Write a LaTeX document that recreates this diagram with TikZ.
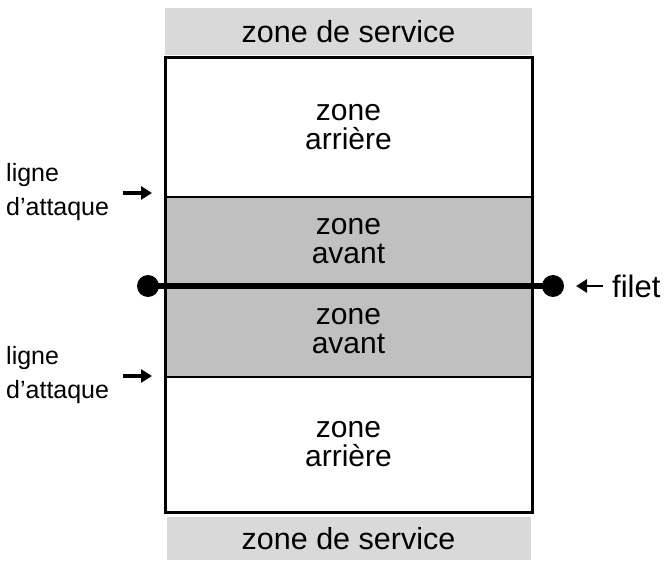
\documentclass[tikz,border=0pt]{standalone}
\usepackage{fontspec}
\setmainfont{Liberation Sans}
\usetikzlibrary{positioning, arrows.meta}
\definecolor{servgray}{HTML}{D9D9D9}
\definecolor{frontgray}{HTML}{C0C0C0}

\begin{document}
\begin{tikzpicture}[
  x=1pt, y=-1pt,
  zone/.style={rectangle, draw=black, line width=2.5pt, outer sep=0pt, inner sep=0pt,
    minimum width=367pt, align=center, font=\fontsize{30}{29}\selectfont},
  back/.style={zone, fill=white},
  front/.style={zone, fill=frontgray},
  service/.style={rectangle, fill=servgray, outer sep=0pt, inner sep=0pt,
    font=\fontsize{30.5}{30}\selectfont},
  lbl/.style={align=left, inner sep=0pt, anchor=west, font=\fontsize{25}{34}\selectfont},
  dot/.style={circle, fill=black, minimum size=22pt, inner sep=0pt},
  net/.style={line width=6.5pt},
  tip/.style={-{Triangle[length=11pt,width=13pt]}, line width=3.5pt}
]
\useasboundingbox (0,0) rectangle (667,561);

% court, from the back zone over the net to the other side
\node[back, minimum height=139pt] (backN) at (348.5,127.5) {zone\\arrière};
\node[front, minimum height=89pt, below=0pt of backN] (frontN) {zone\\avant};
\node[front, minimum height=91pt, below=0pt of frontN] (frontS) {zone\\avant};
\node[back, minimum height=135pt, below=0pt of frontS] (backS) {zone\\arrière};
\draw[line width=3pt] (backN.north west) rectangle (backS.south east);

\node[service, minimum width=367pt, minimum height=47pt, above=3pt of backN] (servN) {zone de service};
\node[service, minimum width=364pt, minimum height=43pt, below=5pt of backS] (servS) {zone de service};

% net
\node[dot] (netW) at (148,286) {};
\node[dot] (netE) at (553,286) {};
\draw[net] (netW.center) -- (netE.center);
\node[anchor=west, inner sep=0pt, font=\fontsize{31}{31}\selectfont] (filet) at (612,286) {filet};
\coordinate (filetA) at (603,286);
\coordinate (filetB) at (576,286);
\draw[-{Triangle[length=11pt,width=13pt]}, line width=2.8pt] (filetA) -- (filetB);

% attack lines
\node[lbl] (attN) at (6,192) {ligne\\d’attaque};
\node[lbl] (attS) at (6,375) {ligne\\d’attaque};
\coordinate (attNa) at (123,193);
\coordinate (attNb) at (152,193);
\coordinate (attSa) at (123,376);
\coordinate (attSb) at (152,376);
\draw[tip] (attNa) -- (attNb);
\draw[tip] (attSa) -- (attSb);
\end{tikzpicture}
\end{document}
